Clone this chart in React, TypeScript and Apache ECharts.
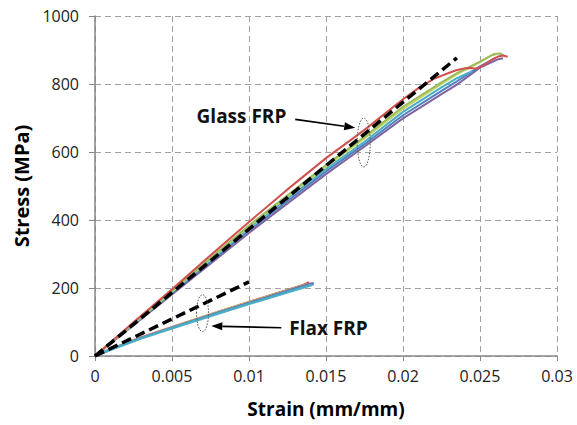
import React, { useEffect, useRef } from "react";
import * as echarts from "echarts";

// ---- data (strain mm/mm, stress MPa) ----
const xTicks = [0, 0.005, 0.01, 0.015, 0.02, 0.025, 0.03];
const yTicks = [0, 200, 400, 600, 800, 1000];

const glassRed = [[0,0],[0.0025,99],[0.005,196],[0.0075,296],[0.01,394],[0.0125,490],[0.015,582],[0.0175,665],[0.02,755],[0.021,788],[0.022,815],[0.023,833],[0.0235,841],[0.024,846],[0.0244,847],[0.0248,845],[0.0253,857],[0.0258,872],[0.0262,881],[0.0265,884],[0.0268,880]];
const glassOlive = [[0,0],[0.005,192],[0.01,384],[0.015,562],[0.0175,645],[0.02,733],[0.0225,805],[0.0235,832],[0.025,866],[0.0259,888],[0.0263,890],[0.0265,885]];
const glassLime = [[0,0],[0.005,190],[0.01,381],[0.015,557],[0.0175,640],[0.02,727],[0.0225,800],[0.0235,828],[0.025,864],[0.0258,886],[0.026,885]];
const glassCyan = [[0,0],[0.005,188],[0.01,377],[0.015,550],[0.0175,630],[0.02,718],[0.0225,790],[0.0235,817],[0.0245,838]];
const glassBlue = [[0,0],[0.005,185],[0.01,369],[0.015,543],[0.0175,623],[0.02,708],[0.0225,780],[0.0235,808],[0.025,852],[0.0258,872],[0.026,876]];
const glassPurple = [[0,0],[0.005,181],[0.01,362],[0.015,535],[0.0175,616],[0.02,699],[0.0225,770],[0.0235,798],[0.025,848],[0.0262,873],[0.0265,876]];

const flaxRed = [[0,0],[0.001,20],[0.003,55],[0.0055,93],[0.008,130],[0.011,174],[0.0135,209],[0.0139,217]];
const flaxOlive = [[0,0],[0.001,20],[0.003,54],[0.0055,93],[0.008,130],[0.011,173],[0.013,201],[0.0138,212]];
const flaxPurple = [[0,0],[0.001,19],[0.003,53],[0.0055,91],[0.008,128],[0.011,171],[0.014,213],[0.0142,215]];
const flaxBlue = [[0,0],[0.001,19],[0.003,53],[0.0055,90],[0.008,127],[0.011,169],[0.0125,191],[0.014,210],[0.0142,211]];
const flaxCyan = [[0,0],[0.001,18],[0.003,52],[0.0055,89],[0.008,125],[0.011,167],[0.014,208],[0.0141,210]];

const glassFit = [[0,0],[0.0235,877]];
const flaxFit = [[0,0],[0.01,218]];

// annotation anchors (data coordinates)
const glassLabel = { text: "Glass FRP", at: [0.00951, 705] };
const glassArrow = [[0.0130, 696], [0.0169, 671]];
const glassEllipse = [0.01745, 628];
const flaxLabel = { text: "Flax FRP", at: [0.01516, 81] };
const flaxArrow = [[0.0121, 83], [0.00755, 88]];
const flaxEllipse = [0.00698, 126];

const FONT = '"Open Sans", "Liberation Sans", sans-serif';

export default function App() {
  const ref = useRef<HTMLDivElement>(null);
  useEffect(() => {
    const chart = echarts.init(ref.current!, null, { renderer: "svg" });
    const line = (data: number[][], color: string, width = 2, z = 2) => ({
      type: "line",
      data,
      showSymbol: false,
      symbol: "none",
      smooth: false,
      z,
      lineStyle: { color, width },
    });
    const dashed = (data: number[][]) => ({
      type: "line",
      data,
      showSymbol: false,
      symbol: "none",
      z: 5,
      lineStyle: { color: "#000", width: 3.5, type: [10, 5] },
    });
    const gridLine = { show: true, lineStyle: { color: "#A0A0A0", width: 1, type: [6, 4] } };
    chart.setOption({
      animation: false,
      backgroundColor: "#fff",
      grid: { left: 95, right: 20, top: 16, bottom: 69 },
      xAxis: {
        type: "value",
        min: 0,
        max: 0.03,
        interval: 0.005,
        name: "Strain (mm/mm)",
        nameLocation: "middle",
        nameGap: 43,
        nameTextStyle: { fontFamily: FONT, fontWeight: "bold", fontSize: 19, color: "#000" },
        axisLine: { show: true, lineStyle: { color: "#868686", width: 1.5 } },
        axisTick: { show: true, length: 5, lineStyle: { color: "#868686" } },
        axisLabel: {
          margin: 12,
          fontFamily: FONT,
          fontSize: 16,
          color: "#222",
          formatter: (v: number) => String(+v.toFixed(3)),
        },
        splitLine: gridLine,
      },
      yAxis: {
        type: "value",
        min: 0,
        max: 1000,
        interval: 200,
        name: "Stress (MPa)",
        nameLocation: "middle",
        nameGap: 60,
        nameTextStyle: { fontFamily: FONT, fontWeight: "bold", fontSize: 20, color: "#000" },
        axisLine: { show: true, lineStyle: { color: "#868686", width: 1.5 } },
        axisTick: { show: true, length: 6, lineStyle: { color: "#868686" } },
        axisLabel: {
          margin: 16,
          fontFamily: FONT,
          fontSize: 16,
          color: "#222",
          formatter: (v: number) => String(v),
        },
        splitLine: gridLine,
      },
      series: [
        line(glassPurple, "#8064A2"),
        line(glassBlue, "#4F81BD"),
        line(glassCyan, "#4BACC6"),
        line(glassLime, "#C3D66B"),
        line(glassOlive, "#9BBB59"),
        line(glassRed, "#D0504D"),
        line(flaxRed, "#D0504D"),
        line(flaxOlive, "#C3C36B"),
        line(flaxPurple, "#8064A2"),
        line(flaxBlue, "#4F81BD"),
        line(flaxCyan, "#4BACC6", 2.5),
        dashed(glassFit),
        dashed(flaxFit),
      ],
    });

    const px = (p: number[]) => chart.convertToPixel({ gridIndex: 0 }, p) as number[];
    const arrow = (a: number[][]) => {
      const p1 = px(a[0]);
      const p2 = px(a[1]);
      const dx = p2[0] - p1[0];
      const dy = p2[1] - p1[1];
      const len = Math.hypot(dx, dy);
      const ux = dx / len, uy = dy / len;
      const hl = 11, hw = 4;
      const bx = p2[0] - ux * hl, by = p2[1] - uy * hl;
      return [
        {
          type: "line",
          shape: { x1: p1[0], y1: p1[1], x2: bx, y2: by },
          style: { stroke: "#000", lineWidth: 1.6 },
          z: 10,
        },
        {
          type: "polygon",
          shape: {
            points: [
              [p2[0], p2[1]],
              [bx - uy * hw, by + ux * hw],
              [bx + uy * hw, by - ux * hw],
            ],
          },
          style: { fill: "#000" },
          z: 10,
        },
      ];
    };
    const ellipse = (c: number[], rx: number, ry: number) => {
      const p = px(c);
      return {
        type: "ellipse",
        shape: { cx: p[0], cy: p[1], rx, ry },
        style: { fill: "none", stroke: "#555", lineWidth: 1, lineDash: [1.5, 1.5] },
        z: 10,
      };
    };
    const label = (l: { text: string; at: number[] }) => {
      const p = px(l.at);
      return {
        type: "text",
        x: p[0],
        y: p[1],
        z: 10,
        style: {
          text: l.text,
          fill: "#111",
          fontFamily: FONT,
          fontWeight: "bold",
          fontSize: 19,
          align: "center",
          verticalAlign: "middle",
          textAlign: "center",
          textVerticalAlign: "middle",
        },
      };
    };
    chart.setOption({
      graphic: [
        label(glassLabel),
        ...arrow(glassArrow),
        ellipse(glassEllipse, 6.5, 24.5),
        label(flaxLabel),
        ...arrow(flaxArrow),
        ellipse(flaxEllipse, 6, 18.5),
      ],
    });
    return () => chart.dispose();
  }, []);
  return (
    <div
      ref={ref}
      style={{ position: "fixed", left: 0, top: 0, width: 577, height: 425, background: "#fff" }}
    />
  );
}
